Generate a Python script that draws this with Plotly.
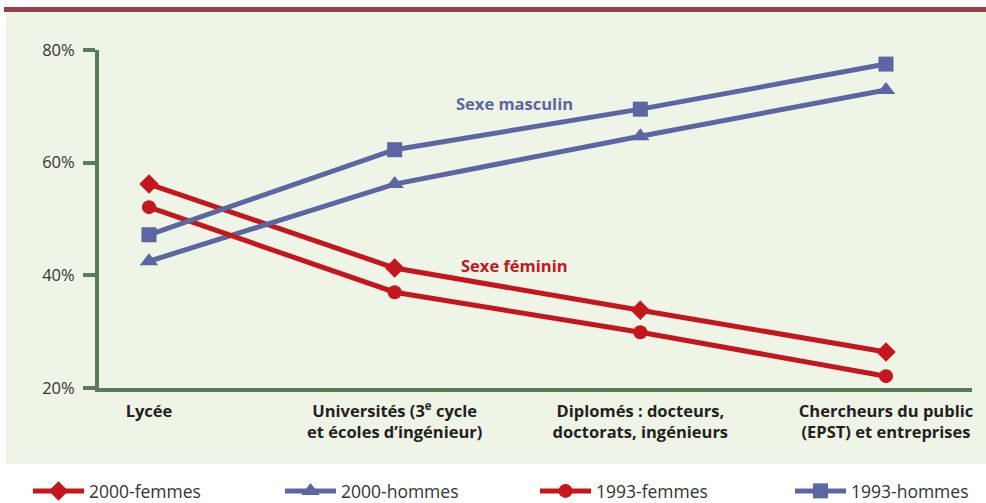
import plotly.graph_objects as go

categories = [
    "Lycée",
    "Universités (3<sup>e</sup> cycle<br>et écoles d’ingénieur)",
    "Diplomés : docteurs,<br>doctorats, ingénieurs",
    "Chercheurs du public<br>(EPST) et entreprises",
]
femmes_2000 = [56.2, 41.3, 33.8, 26.4]
hommes_2000 = [42.5, 56.2, 64.7, 72.9]
femmes_1993 = [52.1, 37.0, 29.9, 22.1]
hommes_1993 = [47.2, 62.3, 69.5, 77.5]
y_ticks = [20, 40, 60, 80]
y_tick_labels = ["20%", "40%", "60%", "80%"]

RED = "#c5161d"
BLUE = "#5c66a2"
GREEN = "#5a7b57"
BG = "#eef4e6"
BAR = "#9b3f4b"

series = [
    ("2000-femmes", femmes_2000, RED, "diamond", 15, "legend", 28),
    ("2000-hommes", hommes_2000, BLUE, "triangle-up", 16, "legend2", 280),
    ("1993-femmes", femmes_1993, RED, "circle", 14, "legend3", 535),
    ("1993-hommes", hommes_1993, BLUE, "square", 15, "legend4", 790),
]

L, R, T, B = 99, 14, 50, 115
W, H = 986, 503
pw = W - L - R
ph = H - T - B

def px_x(p):
    return (p - L) / pw

def px_y(p):
    return (H - B - p) / ph

fig = go.Figure()
legends = {}
for name, vals, col, sym, size, leg, lx in series:
    fig.add_trace(go.Scatter(
        x=categories, y=vals, name=name, mode="lines+markers",
        line=dict(color=col, width=5),
        marker=dict(symbol=sym, size=size, color=col, line=dict(width=0)),
        cliponaxis=False, legend=leg,
    ))
    legends[leg] = dict(
        orientation="h", xref="container", yref="container",
        x=lx / W, y=1 - 491 / H, xanchor="left", yanchor="middle",
        itemwidth=51,
        font=dict(family="Open Sans, sans-serif", size=17.5, color="#333333"),
        bgcolor="rgba(0,0,0,0)",
    )

fig.add_shape(type="rect", xref="paper", yref="paper",
              x0=px_x(6), x1=px_x(986), y0=px_y(464), y1=px_y(12),
              fillcolor=BG, line=dict(width=0), layer="below")
fig.add_shape(type="rect", xref="paper", yref="paper",
              x0=px_x(4), x1=px_x(986), y0=px_y(12), y1=px_y(7),
              fillcolor=BAR, line=dict(width=0), layer="below")

fig.add_annotation(text="<b>Sexe masculin</b>", xref="paper", yref="paper",
                   x=px_x(514), y=px_y(103), xanchor="center", yanchor="middle",
                   showarrow=False,
                   font=dict(family="Open Sans, sans-serif", size=16.5, color=BLUE))
fig.add_annotation(text="<b>Sexe féminin</b>", xref="paper", yref="paper",
                   x=px_x(514), y=px_y(265), xanchor="center", yanchor="middle",
                   showarrow=False,
                   font=dict(family="Open Sans, sans-serif", size=16.5, color=RED))

fig.update_layout(
    width=W, height=H,
    margin=dict(l=L, r=R, t=T, b=B),
    paper_bgcolor="white",
    plot_bgcolor="rgba(0,0,0,0)",
    showlegend=True,
    **legends,
    xaxis=dict(
        type="category", range=[-0.2035, 3.35],
        showline=True, linecolor=GREEN, linewidth=4,
        showgrid=False, zeroline=False, ticks="",
        tickfont=dict(family="Open Sans, sans-serif", size=16.5, color="#231f20", weight="bold"),
        ticklabelstandoff=5,
    ),
    yaxis=dict(
        range=[20, 80], tickvals=y_ticks, ticktext=y_tick_labels,
        showline=True, linecolor=GREEN, linewidth=4,
        ticks="outside", ticklen=12, tickwidth=4, tickcolor=GREEN,
        showgrid=False, zeroline=False,
        tickfont=dict(family="Open Sans, sans-serif", size=16.5, color="#333333"),
        ticklabelstandoff=5,
    ),
)

fig.write_html("out.html", config={"displayModeBar": False},
               post_script="document.body.style.margin='0px';")
